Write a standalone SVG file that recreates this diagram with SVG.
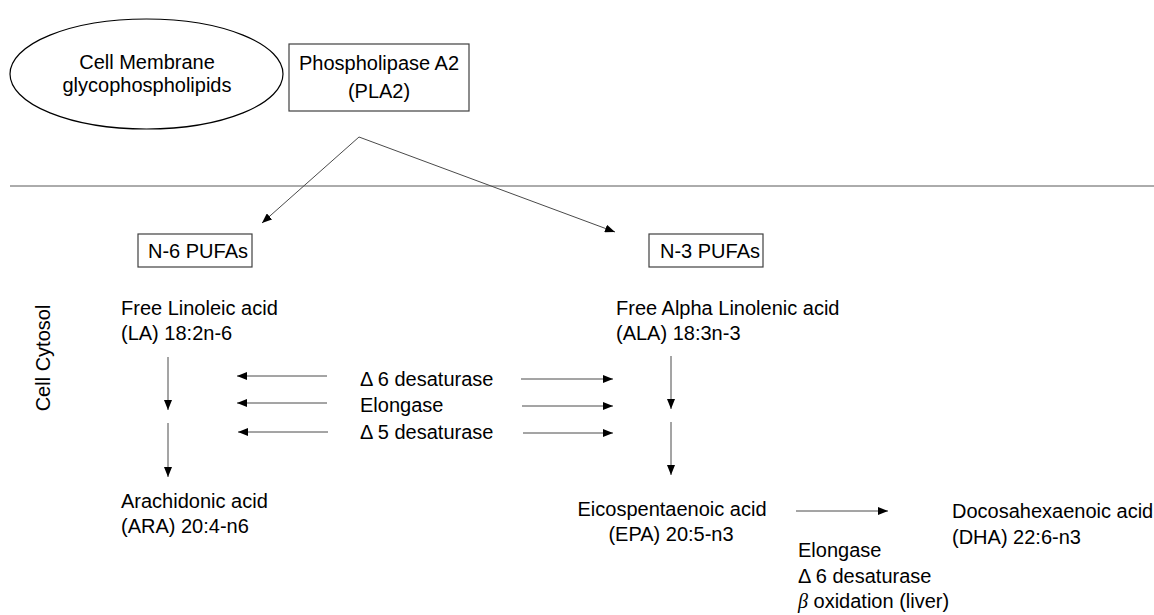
<svg xmlns="http://www.w3.org/2000/svg" width="1154" height="615" viewBox="0 0 1154 615">
<style>
text{font-family:"Liberation Sans",Arial,sans-serif;font-size:20px;fill:#000}
.mid{text-anchor:middle}
.box{fill:#fff;stroke:#404040;stroke-width:1.2}
.conn line{stroke:#4a4a4a;stroke-width:1;marker-end:url(#ah)}
.beta{font-family:"Liberation Serif",serif;font-style:italic}
</style>
<defs>
<marker id="ah" markerUnits="userSpaceOnUse" markerWidth="10" markerHeight="8" viewBox="0 0 10 8" refX="10" refY="4" orient="auto">
<path d="M0,0 L10,4 L0,8 Z" fill="#000"/>
</marker>
</defs>
<rect width="1154" height="615" fill="#fff"/>
<line x1="10" y1="186" x2="1154" y2="186" stroke="#595959" stroke-width="1"/>
<g id="membrane">
<ellipse cx="146.5" cy="74" rx="136.5" ry="55" fill="#fff" stroke="#000" stroke-width="1.2"/>
<text class="mid" x="147" y="69">Cell Membrane</text>
<text class="mid" x="147" y="92">glycophospholipids</text>
</g>
<g id="pla2">
<rect class="box" x="289" y="44" width="180" height="67"/>
<text class="mid" x="379" y="70">Phospholipase A2</text>
<text class="mid" x="379" y="98">(PLA2)</text>
</g>
<g id="cytosol">
<text class="mid" transform="translate(50,358) rotate(-90)">Cell Cytosol</text>
</g>
<g id="n6">
<rect class="box" x="138" y="234" width="114" height="33"/>
<text x="148" y="258">N-6 PUFAs</text>
</g>
<g id="n3">
<rect class="box" x="649" y="234" width="114" height="33"/>
<text x="660" y="258">N-3 PUFAs</text>
</g>
<g id="la">
<text x="121" y="315">Free Linoleic acid</text>
<text x="121" y="340">(LA) 18:2n-6</text>
</g>
<g id="ala">
<text x="616" y="315">Free Alpha Linolenic acid</text>
<text x="616" y="340">(ALA) 18:3n-3</text>
</g>
<g id="enzymes">
<text x="360" y="386">Δ 6 desaturase</text>
<text x="360" y="412">Elongase</text>
<text x="360" y="439">Δ 5 desaturase</text>
</g>
<g id="ara">
<text x="121" y="508">Arachidonic acid</text>
<text x="121" y="533">(ARA) 20:4-n6</text>
</g>
<g id="epa">
<text class="mid" x="672" y="516">Eicospentaenoic acid</text>
<text class="mid" x="671" y="541">(EPA) 20:5-n3</text>
</g>
<g id="dha">
<text x="952" y="518">Docosahexaenoic acid</text>
<text x="952" y="544">(DHA) 22:6-n3</text>
</g>
<g id="dha-enzymes">
<text x="798" y="557">Elongase</text>
<text x="798" y="583">Δ 6 desaturase</text>
<text x="798" y="608"><tspan class="beta">β</tspan> oxidation (liver)</text>
</g>
<g id="connectors" class="conn">
<line x1="359" y1="137" x2="262" y2="223"/>
<line x1="359" y1="137" x2="615" y2="232"/>
<line x1="168" y1="357" x2="168" y2="410"/>
<line x1="168" y1="423" x2="168" y2="477"/>
<line x1="671" y1="356" x2="671" y2="409"/>
<line x1="671" y1="422" x2="671" y2="475"/>
<line x1="327" y1="376" x2="237" y2="376"/>
<line x1="327" y1="403" x2="237" y2="403"/>
<line x1="328" y1="432" x2="238" y2="432"/>
<line x1="521" y1="379" x2="613" y2="379"/>
<line x1="522" y1="406" x2="613" y2="406"/>
<line x1="523" y1="433" x2="613" y2="433"/>
<line x1="796" y1="511" x2="888" y2="511"/>
</g>
</svg>
